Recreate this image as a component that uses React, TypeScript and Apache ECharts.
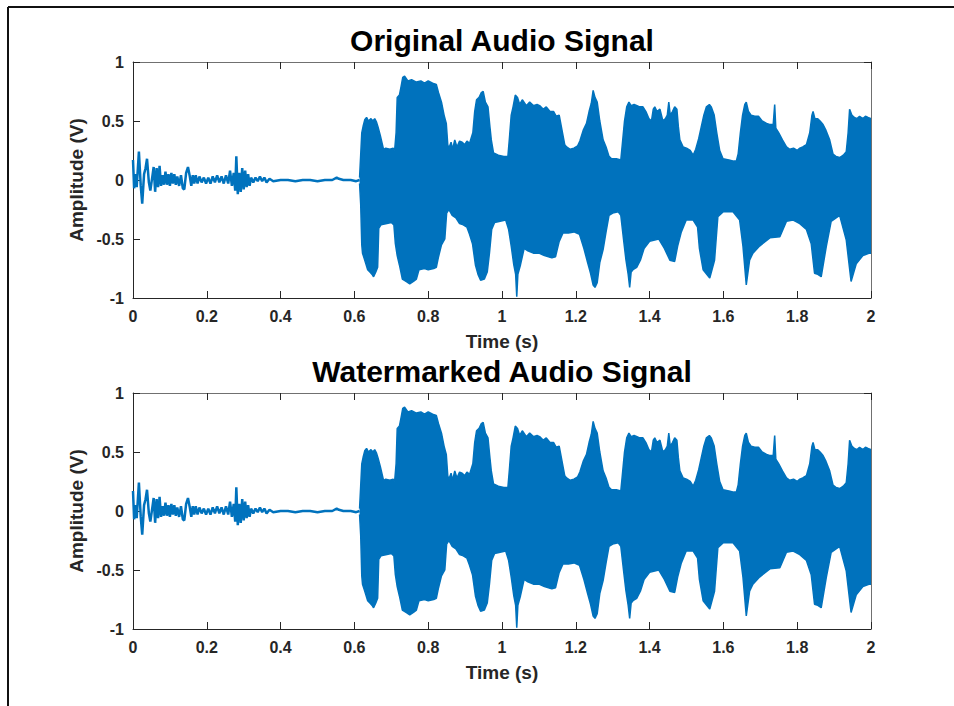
import React, { useEffect, useRef } from 'react';
import * as echarts from 'echarts';

const panelTitles = ['Original Audio Signal', 'Watermarked Audio Signal'];
const xAxisLabel = 'Time (s)';
const yAxisLabel = 'Amplitude (V)';

// quiet start of the recording (s, V)
const quietTime = [
  0.000, 0.003, 0.007, 0.010, 0.016, 0.021, 0.025, 0.030, 0.034, 0.038, 0.043, 0.047, 0.052, 0.056, 0.060,
  0.064, 0.068, 0.072, 0.076, 0.080, 0.084, 0.088, 0.092, 0.096, 0.100, 0.104, 0.108, 0.112, 0.116, 0.120,
  0.125, 0.130, 0.135, 0.139, 0.144, 0.149, 0.154, 0.158, 0.162, 0.166, 0.170, 0.175, 0.180, 0.186, 0.192,
  0.198, 0.204, 0.210, 0.216, 0.222, 0.228, 0.234, 0.240, 0.246, 0.252, 0.258, 0.263, 0.268, 0.273, 0.277,
  0.280, 0.284, 0.288, 0.292, 0.296, 0.300, 0.304, 0.308, 0.312, 0.316, 0.320, 0.326, 0.332, 0.338, 0.344,
  0.350, 0.356, 0.362, 0.370, 0.380, 0.400, 0.420, 0.440, 0.460, 0.480, 0.500, 0.520, 0.540, 0.552, 0.558,
  0.570, 0.590, 0.605, 0.614,
];
const originalQuiet = [
  0.17, -0.07, 0.05, -0.06, 0.24, -0.05, -0.20, 0.05, 0.10, 0.18, -0.02, -0.09, 0.02, 0.11, -0.10,
  0.10, -0.06, 0.12, -0.05, 0.04, -0.04, 0.07, -0.04, 0.05, -0.05, 0.06, -0.03, 0.05, -0.04, 0.03,
  -0.05, 0.04, -0.07, -0.08, 0.06, 0.11, 0.03, -0.05, 0.04, -0.03, 0.04, -0.03, 0.03, -0.02, 0.02,
  -0.03, 0.02, -0.03, 0.03, -0.02, 0.04, -0.02, 0.03, -0.03, 0.04, -0.03, 0.08, -0.05, 0.06, -0.09,
  0.20, -0.12, 0.06, -0.10, 0.10, -0.08, 0.08, -0.06, 0.05, -0.05, 0.02, -0.02, 0.02, -0.01, 0.03,
  -0.01, 0.02, -0.02, 0.01, -0.01, 0.00, 0.00, -0.01, 0.00, 0.00, -0.01, 0.00, 0.00, 0.02, 0.01,
  0.00, 0.00, -0.01, 0.00,
];
const watermarkedQuiet = [
  0.17, -0.07, 0.05, -0.06, 0.24, -0.05, -0.20, 0.05, 0.10, 0.18, -0.02, -0.09, 0.02, 0.11, -0.10,
  0.10, -0.06, 0.12, -0.05, 0.04, -0.04, 0.07, -0.04, 0.05, -0.05, 0.06, -0.03, 0.05, -0.04, 0.03,
  -0.05, 0.04, -0.07, -0.08, 0.06, 0.11, 0.03, -0.05, 0.04, -0.03, 0.04, -0.03, 0.03, -0.02, 0.02,
  -0.03, 0.02, -0.03, 0.03, -0.02, 0.04, -0.02, 0.03, -0.03, 0.04, -0.03, 0.08, -0.05, 0.06, -0.09,
  0.20, -0.12, 0.06, -0.10, 0.10, -0.08, 0.08, -0.06, 0.05, -0.05, 0.02, -0.02, 0.02, -0.01, 0.03,
  -0.01, 0.02, -0.02, 0.01, -0.01, 0.00, 0.00, -0.01, 0.00, 0.00, -0.01, 0.00, 0.00, 0.02, 0.01,
  0.00, 0.00, -0.01, 0.00,
];

// loud part: upper envelope of the waveform (s, V)
const upperTime = [
  0.614, 0.617, 0.620, 0.624, 0.628, 0.633, 0.638, 0.645, 0.650, 0.655, 0.660, 0.664, 0.670, 0.673, 0.679,
  0.685, 0.696, 0.705, 0.709, 0.713, 0.716, 0.722, 0.727, 0.731, 0.736, 0.745, 0.755, 0.768, 0.780, 0.790,
  0.800, 0.812, 0.822, 0.828, 0.836, 0.843, 0.849, 0.853, 0.856, 0.862, 0.866, 0.872, 0.878, 0.885, 0.892,
  0.899, 0.905, 0.912, 0.918, 0.921, 0.926, 0.931, 0.938, 0.944, 0.949, 0.955, 0.962, 0.967, 0.971, 0.977,
  0.990, 1.005, 1.016, 1.020, 1.025, 1.030, 1.036, 1.042, 1.048, 1.055, 1.066, 1.075, 1.085, 1.095, 1.102,
  1.112, 1.120, 1.130, 1.140, 1.147, 1.155, 1.164, 1.170, 1.175, 1.185, 1.195, 1.205, 1.211, 1.220, 1.229,
  1.236, 1.242, 1.247, 1.252, 1.258, 1.265, 1.274, 1.282, 1.290, 1.297, 1.310, 1.322, 1.326, 1.332, 1.338,
  1.344, 1.350, 1.358, 1.366, 1.373, 1.382, 1.390, 1.398, 1.405, 1.410, 1.414, 1.420, 1.428, 1.436, 1.443,
  1.448, 1.452, 1.456, 1.462, 1.468, 1.474, 1.478, 1.482, 1.491, 1.500, 1.510, 1.518, 1.525, 1.533, 1.540,
  1.547, 1.554, 1.562, 1.567, 1.575, 1.582, 1.590, 1.599, 1.615, 1.628, 1.635, 1.640, 1.646, 1.652, 1.658,
  1.662, 1.668, 1.675, 1.685, 1.695, 1.705, 1.717, 1.725, 1.735, 1.739, 1.742, 1.750, 1.760, 1.771, 1.780,
  1.790, 1.800, 1.807, 1.815, 1.825, 1.834, 1.840, 1.843, 1.848, 1.855, 1.862, 1.870, 1.878, 1.888, 1.897,
  1.905, 1.915, 1.925, 1.933, 1.938, 1.942, 1.948, 1.955, 1.962, 1.969, 1.978, 1.985, 1.992, 2.000,
];
const originalUpper = [
  0.02, 0.21, 0.40, 0.46, 0.51, 0.53, 0.50, 0.52, 0.50, 0.52, 0.49, 0.45, 0.38, 0.34, 0.26,
  0.27, 0.26, 0.27, 0.25, 0.40, 0.70, 0.72, 0.80, 0.87, 0.88, 0.84, 0.85, 0.83, 0.84, 0.82,
  0.84, 0.82, 0.81, 0.74, 0.66, 0.55, 0.48, 0.30, 0.27, 0.32, 0.26, 0.34, 0.28, 0.33, 0.32,
  0.30, 0.33, 0.31, 0.37, 0.40, 0.58, 0.68, 0.70, 0.74, 0.75, 0.66, 0.62, 0.46, 0.34, 0.23,
  0.21, 0.20, 0.20, 0.35, 0.55, 0.62, 0.72, 0.70, 0.64, 0.68, 0.63, 0.66, 0.63, 0.64, 0.63,
  0.60, 0.62, 0.58, 0.58, 0.54, 0.55, 0.40, 0.30, 0.28, 0.26, 0.27, 0.29, 0.33, 0.42, 0.48,
  0.58, 0.65, 0.76, 0.70, 0.66, 0.50, 0.34, 0.28, 0.20, 0.18, 0.18, 0.17, 0.30, 0.50, 0.62,
  0.66, 0.63, 0.64, 0.63, 0.62, 0.62, 0.58, 0.52, 0.50, 0.60, 0.62, 0.58, 0.60, 0.50, 0.52,
  0.55, 0.66, 0.55, 0.58, 0.62, 0.60, 0.45, 0.34, 0.28, 0.27, 0.25, 0.21, 0.26, 0.35, 0.45,
  0.55, 0.62, 0.64, 0.62, 0.55, 0.40, 0.25, 0.18, 0.17, 0.16, 0.16, 0.22, 0.40, 0.55, 0.64,
  0.66, 0.58, 0.55, 0.54, 0.54, 0.50, 0.48, 0.47, 0.47, 0.64, 0.44, 0.40, 0.34, 0.28, 0.26,
  0.27, 0.25, 0.27, 0.28, 0.30, 0.40, 0.55, 0.58, 0.52, 0.52, 0.50, 0.47, 0.42, 0.34, 0.22,
  0.20, 0.19, 0.21, 0.24, 0.40, 0.60, 0.55, 0.53, 0.52, 0.54, 0.52, 0.54, 0.53, 0.52,
];
const watermarkedUpper = [
  0.02, 0.21, 0.40, 0.46, 0.51, 0.53, 0.50, 0.52, 0.50, 0.52, 0.49, 0.45, 0.38, 0.34, 0.26,
  0.27, 0.26, 0.27, 0.25, 0.40, 0.70, 0.72, 0.80, 0.87, 0.88, 0.84, 0.85, 0.83, 0.84, 0.82,
  0.84, 0.82, 0.81, 0.74, 0.66, 0.55, 0.48, 0.30, 0.27, 0.32, 0.26, 0.34, 0.28, 0.33, 0.32,
  0.30, 0.33, 0.31, 0.37, 0.40, 0.58, 0.68, 0.70, 0.74, 0.75, 0.66, 0.62, 0.46, 0.34, 0.23,
  0.21, 0.20, 0.20, 0.35, 0.55, 0.62, 0.72, 0.70, 0.64, 0.68, 0.63, 0.66, 0.63, 0.64, 0.63,
  0.60, 0.62, 0.58, 0.58, 0.54, 0.55, 0.40, 0.30, 0.28, 0.26, 0.27, 0.29, 0.33, 0.42, 0.48,
  0.58, 0.65, 0.76, 0.70, 0.66, 0.50, 0.34, 0.28, 0.20, 0.18, 0.18, 0.17, 0.30, 0.50, 0.62,
  0.66, 0.63, 0.64, 0.63, 0.62, 0.62, 0.58, 0.52, 0.50, 0.60, 0.62, 0.58, 0.60, 0.50, 0.52,
  0.55, 0.66, 0.55, 0.58, 0.62, 0.60, 0.45, 0.34, 0.28, 0.27, 0.25, 0.21, 0.26, 0.35, 0.45,
  0.55, 0.62, 0.64, 0.62, 0.55, 0.40, 0.25, 0.18, 0.17, 0.16, 0.16, 0.22, 0.40, 0.55, 0.64,
  0.66, 0.58, 0.55, 0.54, 0.54, 0.50, 0.48, 0.47, 0.47, 0.64, 0.44, 0.40, 0.34, 0.28, 0.26,
  0.27, 0.25, 0.27, 0.28, 0.30, 0.40, 0.55, 0.58, 0.52, 0.52, 0.50, 0.47, 0.42, 0.34, 0.22,
  0.20, 0.19, 0.21, 0.24, 0.40, 0.60, 0.55, 0.53, 0.52, 0.54, 0.52, 0.54, 0.53, 0.52,
];

// loud part: lower envelope of the waveform (s, V)
const lowerTime = [
  0.614, 0.617, 0.620, 0.622, 0.626, 0.630, 0.636, 0.642, 0.648, 0.652, 0.658, 0.663, 0.666, 0.672, 0.685,
  0.700, 0.707, 0.711, 0.716, 0.722, 0.730, 0.740, 0.750, 0.760, 0.768, 0.775, 0.790, 0.800, 0.815, 0.822,
  0.828, 0.836, 0.845, 0.850, 0.856, 0.865, 0.875, 0.885, 0.895, 0.905, 0.912, 0.920, 0.928, 0.935, 0.942,
  0.952, 0.960, 0.966, 0.972, 0.980, 0.995, 1.010, 1.018, 1.025, 1.032, 1.037, 1.040, 1.043, 1.050, 1.060,
  1.070, 1.085, 1.100, 1.115, 1.135, 1.145, 1.155, 1.165, 1.180, 1.195, 1.210, 1.222, 1.232, 1.240, 1.247,
  1.252, 1.258, 1.265, 1.274, 1.282, 1.290, 1.300, 1.315, 1.322, 1.330, 1.336, 1.342, 1.346, 1.350, 1.355,
  1.365, 1.375, 1.385, 1.400, 1.425, 1.440, 1.455, 1.468, 1.476, 1.486, 1.499, 1.518, 1.530, 1.535, 1.545,
  1.563, 1.576, 1.585, 1.599, 1.626, 1.644, 1.653, 1.662, 1.671, 1.680, 1.698, 1.726, 1.753, 1.771, 1.789,
  1.807, 1.825, 1.838, 1.847, 1.856, 1.865, 1.879, 1.892, 1.915, 1.933, 1.946, 1.960, 1.978, 1.996, 2.000,
];
const originalLower = [
  -0.03, -0.20, -0.55, -0.62, -0.66, -0.70, -0.76, -0.78, -0.80, -0.82, -0.78, -0.74, -0.41, -0.38, -0.37,
  -0.36, -0.38, -0.54, -0.64, -0.72, -0.84, -0.86, -0.88, -0.86, -0.84, -0.76, -0.75, -0.76, -0.75, -0.74,
  -0.65, -0.55, -0.50, -0.28, -0.25, -0.30, -0.32, -0.37, -0.38, -0.40, -0.46, -0.54, -0.72, -0.80, -0.85,
  -0.84, -0.78, -0.62, -0.42, -0.36, -0.35, -0.34, -0.42, -0.56, -0.72, -0.80, -0.99, -0.80, -0.72, -0.58,
  -0.60, -0.62, -0.62, -0.64, -0.66, -0.65, -0.52, -0.45, -0.45, -0.44, -0.46, -0.58, -0.70, -0.79, -0.89,
  -0.91, -0.87, -0.70, -0.59, -0.44, -0.30, -0.28, -0.27, -0.30, -0.52, -0.68, -0.80, -0.91, -0.78, -0.76,
  -0.74, -0.68, -0.58, -0.52, -0.50, -0.58, -0.68, -0.69, -0.56, -0.44, -0.34, -0.34, -0.40, -0.58, -0.76,
  -0.83, -0.68, -0.31, -0.27, -0.27, -0.34, -0.56, -0.89, -0.68, -0.62, -0.56, -0.49, -0.48, -0.35, -0.34,
  -0.37, -0.42, -0.54, -0.79, -0.80, -0.82, -0.56, -0.35, -0.30, -0.51, -0.86, -0.71, -0.64, -0.62, -0.62,
];
const watermarkedLower = [
  -0.03, -0.20, -0.55, -0.62, -0.66, -0.70, -0.76, -0.78, -0.80, -0.82, -0.78, -0.74, -0.41, -0.38, -0.37,
  -0.36, -0.38, -0.54, -0.64, -0.72, -0.84, -0.86, -0.88, -0.86, -0.84, -0.76, -0.75, -0.76, -0.75, -0.74,
  -0.65, -0.55, -0.50, -0.28, -0.25, -0.30, -0.32, -0.37, -0.38, -0.40, -0.46, -0.54, -0.72, -0.80, -0.85,
  -0.84, -0.78, -0.62, -0.42, -0.36, -0.35, -0.34, -0.42, -0.56, -0.72, -0.80, -0.99, -0.80, -0.72, -0.58,
  -0.60, -0.62, -0.62, -0.64, -0.66, -0.65, -0.52, -0.45, -0.45, -0.44, -0.46, -0.58, -0.70, -0.79, -0.89,
  -0.91, -0.87, -0.70, -0.59, -0.44, -0.30, -0.28, -0.27, -0.30, -0.52, -0.68, -0.80, -0.91, -0.78, -0.76,
  -0.74, -0.68, -0.58, -0.52, -0.50, -0.58, -0.68, -0.69, -0.56, -0.44, -0.34, -0.34, -0.40, -0.58, -0.76,
  -0.83, -0.68, -0.31, -0.27, -0.27, -0.34, -0.56, -0.89, -0.68, -0.62, -0.56, -0.49, -0.48, -0.35, -0.34,
  -0.37, -0.42, -0.54, -0.79, -0.80, -0.82, -0.56, -0.35, -0.30, -0.51, -0.86, -0.71, -0.64, -0.62, -0.62,
];

const LINE = '#0072BD';
const AXIS = '#262626';
const FONT = "'Liberation Sans', Arial, Helvetica, sans-serif";

const zip = (xs: number[], ys: number[]) => xs.map((x, i) => [x, ys[i]]);

function buildOption() {
  const grids = [
    { left: 133, top: 62, width: 738, height: 236 },
    { left: 133, top: 393, width: 738, height: 236 },
  ];
  const panels = [
    { quiet: originalQuiet, upper: originalUpper, lower: originalLower },
    { quiet: watermarkedQuiet, upper: watermarkedUpper, lower: watermarkedLower },
  ];
  const tickLabel = { color: AXIS, fontFamily: FONT, fontWeight: 'bold' as const, fontSize: 16 };
  const xAxes: any[] = [];
  const yAxes: any[] = [];
  const series: any[] = [];
  grids.forEach((_, g) => {
    xAxes.push({
      type: 'value', gridIndex: g, position: 'bottom', min: 0, max: 2, interval: 0.2,
      axisLine: { show: true, onZero: false, lineStyle: { color: AXIS, width: 1 } },
      axisTick: { show: true, inside: true, length: 7, lineStyle: { color: AXIS } },
      axisLabel: { ...tickLabel, margin: 10, formatter: (v: number) => String(+v.toFixed(1)) },
      splitLine: { show: false },
      name: xAxisLabel, nameLocation: 'middle', nameGap: 34,
      nameTextStyle: { color: AXIS, fontFamily: FONT, fontWeight: 'bold', fontSize: 19 },
    });
    xAxes.push({
      type: 'value', gridIndex: g, position: 'top', min: 0, max: 2, interval: 0.2,
      axisLine: { show: true, onZero: false, lineStyle: { color: '#707070', width: 1 } },
      axisTick: { show: true, inside: true, length: 7, lineStyle: { color: AXIS } },
      axisLabel: { show: false }, splitLine: { show: false },
    });
    yAxes.push({
      type: 'value', gridIndex: g, position: 'left', min: -1, max: 1, interval: 0.5,
      axisLine: { show: true, onZero: false, lineStyle: { color: AXIS, width: 1 } },
      axisTick: { show: true, inside: true, length: 7, lineStyle: { color: AXIS } },
      axisLabel: { ...tickLabel, margin: 9 },
      splitLine: { show: false },
      name: yAxisLabel, nameLocation: 'middle', nameGap: 43, nameRotate: 90,
      nameTextStyle: { color: AXIS, fontFamily: FONT, fontWeight: 'bold', fontSize: 19 },
    });
    yAxes.push({
      type: 'value', gridIndex: g, position: 'right', min: -1, max: 1, interval: 0.5,
      axisLine: { show: true, onZero: false, lineStyle: { color: '#707070', width: 1 } },
      axisTick: { show: true, inside: true, length: 7, lineStyle: { color: AXIS } },
      axisLabel: { show: false }, splitLine: { show: false },
    });
    const xi = g * 2;
    const yi = g * 2;
    const p = panels[g];
    series.push({
      type: 'line', xAxisIndex: xi, yAxisIndex: yi, data: zip(quietTime, p.quiet),
      showSymbol: false, symbol: 'none', silent: true,
      lineStyle: { color: LINE, width: 2.5 },
    });
    series.push({
      type: 'line', xAxisIndex: xi, yAxisIndex: yi, data: zip(upperTime, p.upper),
      showSymbol: false, symbol: 'none', silent: true,
      lineStyle: { color: LINE, width: 1.5 },
      areaStyle: { color: LINE, opacity: 1, origin: 0 },
    });
    series.push({
      type: 'line', xAxisIndex: xi, yAxisIndex: yi, data: zip(lowerTime, p.lower),
      showSymbol: false, symbol: 'none', silent: true,
      lineStyle: { color: LINE, width: 1.5 },
      areaStyle: { color: LINE, opacity: 1, origin: 0 },
    });
  });

  const graphic: any[] = [
    { type: 'line', shape: { x1: 8, y1: 7, x2: 954, y2: 7 }, style: { stroke: '#111', lineWidth: 2 } },
    { type: 'line', shape: { x1: 8, y1: 7, x2: 8, y2: 706 }, style: { stroke: '#111', lineWidth: 2 } },
  ];
  panelTitles.forEach((t, g) => {
    graphic.push({
      type: 'text', x: 502, y: g === 0 ? 40 : 371,
      style: {
        text: t, fill: '#000', font: `bold 30px ${FONT}`,
        align: 'center', verticalAlign: 'middle',
      },
    });
  });

  return {
    animation: false,
    backgroundColor: '#ffffff',
    grid: grids,
    xAxis: xAxes,
    yAxis: yAxes,
    series,
    graphic,
  };
}

export default function App() {
  const ref = useRef<HTMLDivElement>(null);
  useEffect(() => {
    if (!ref.current) return;
    const chart = echarts.init(ref.current, null, { renderer: 'svg' });
    chart.setOption(buildOption() as any);
    return () => chart.dispose();
  }, []);
  return (
    <div
      ref={ref}
      style={{ position: 'fixed', left: 0, top: 0, width: 954, height: 706, background: '#fff' }}
    />
  );
}
